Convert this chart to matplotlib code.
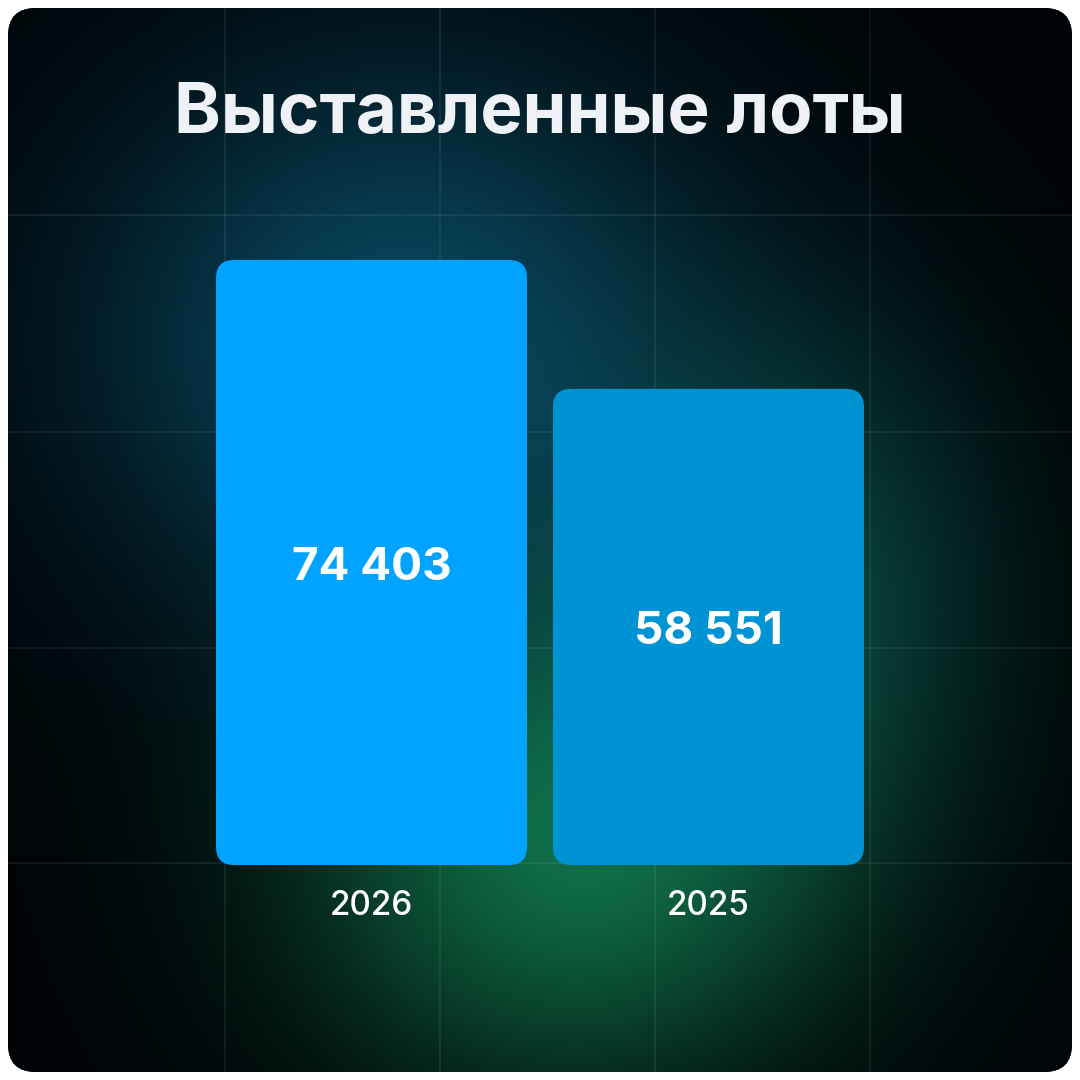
import numpy as np
import matplotlib
matplotlib.use("Agg")
import matplotlib.pyplot as plt
from matplotlib.patches import FancyBboxPatch

# data
years = ["2026", "2025"]
values = [74403, 58551]
bar_colors = ["#00a3ff", "#0093d4"]
title = "Выставленные лоты"

plt.rcParams['font.family'] = ['Inter', 'DejaVu Sans']

W = 1080
fig = plt.figure(figsize=(10.8, 10.8), dpi=100)
fig.patch.set_facecolor("white")

# background card in pixel coords
bg = fig.add_axes([0, 0, 1, 1])
bg.set_xlim(0, W)
bg.set_ylim(W, 0)
bg.axis("off")

card = FancyBboxPatch((8, 8), 1064, 1064, boxstyle="round,pad=0,rounding_size=28",
                      facecolor="#010406", edgecolor="none", transform=bg.transData)
bg.add_patch(card)

yy, xx = np.mgrid[0:W, 0:W].astype(float)
img = np.zeros((W, W, 3))
img[:] = np.array([0, 3, 6]) / 255.0
blue = np.exp(-(((xx - 400) / 320) ** 2 + ((yy - 340) / 290) ** 2))
green = np.exp(-(((xx - 570) / 270) ** 2 + ((yy - 850) / 240) ** 2))
teal = np.exp(-(((xx - 800) / 210) ** 2 + ((yy - 580) / 260) ** 2))
img += blue[..., None] * np.array([8, 66, 86]) / 255.0
img += green[..., None] * np.array([15, 100, 60]) / 255.0
img += teal[..., None] * np.array([6, 50, 42]) / 255.0
img = np.clip(img, 0, 1)
im = bg.imshow(img, extent=(0, W, W, 0), interpolation="bilinear", zorder=1)
im.set_clip_path(card)

# grid
for gx in [225, 440, 655, 870]:
    ln, = bg.plot([gx, gx], [8, 1072], color="white", alpha=0.08, lw=1.2, zorder=2)
    ln.set_clip_path(card)
for gy in [215, 432, 648, 863]:
    ln, = bg.plot([8, 1072], [gy, gy], color="white", alpha=0.08, lw=1.2, zorder=2)
    ln.set_clip_path(card)

bg.text(540, 115, title, color="#eef1f5", fontsize=51, fontweight="bold",
        ha="center", va="center", zorder=3)

# bar axes aligned to pixel layout
left_px, right_px, top_px, bottom_px = 216, 864, 260, 865
ax = fig.add_axes([left_px / W, (W - bottom_px) / W,
                   (right_px - left_px) / W, (bottom_px - top_px) / W])
ax.patch.set_alpha(0)
ax.axis("off")
bw = 311 / 337
x = np.arange(len(values))
ax.set_xlim(-bw / 2, len(values) - 1 + bw / 2)
ax.set_ylim(0, max(values))

bars = ax.bar(x, values, width=bw, color=bar_colors)
px_x = 1 / 337
px_y = max(values) / (bottom_px - top_px)
for rect, c in zip(bars, bar_colors):
    x0, y0 = rect.get_xy()
    w, h = rect.get_width(), rect.get_height()
    rect.remove()
    ax.add_patch(FancyBboxPatch((x0, y0), w, h,
                                boxstyle=f"round,pad=0,rounding_size={18 * px_x}",
                                mutation_aspect=px_y / px_x,
                                facecolor=c, edgecolor="none", clip_on=False))

for xi, v, yr in zip(x, values, years):
    ax.annotate(f"{v:,}".replace(",", " "), xy=(xi, v / 2), xytext=(0, -5),
                textcoords="offset pixels", color="white", fontsize=33,
                fontweight="bold", ha="center", va="center")
    ax.annotate(yr, xy=(xi, 0), xytext=(0, -41), textcoords="offset pixels",
                color="white", fontsize=24, fontweight="medium", ha="center",
                va="center", annotation_clip=False)

fig.savefig("out.png", dpi=100)
